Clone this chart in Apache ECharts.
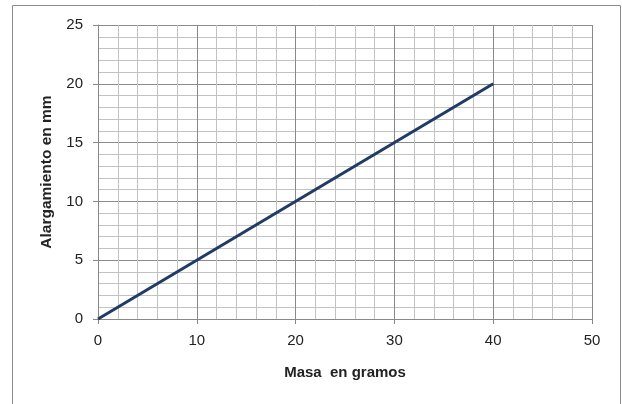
<!DOCTYPE html>
<html>
<head>
<meta charset="utf-8">
<script src="https://cdn.jsdelivr.net/npm/echarts@6/dist/echarts.min.js"></script>
<style>html,body{margin:0;padding:0;background:#fff}#c{width:622px;height:404px}</style>
</head>
<body>
<div id="c"></div>
<script>
const masa = [0, 40];
const alargamiento = [0, 20];
const xTitle = 'Masa  en gramos';
const yTitle = 'Alargamiento en mm';

const chart = echarts.init(document.getElementById('c'), null, {renderer: 'canvas'});
const font = 'Liberation Sans, Arial, sans-serif';
chart.setOption({
  animation: false,
  backgroundColor: '#fff',
  graphic: [{
    type: 'rect', shape: {x: 12.5, y: 5.5, width: 608, height: 420},
    style: {fill: 'none', stroke: '#8c8c8c', lineWidth: 1}, silent: true, z: -1
  }],
  grid: {left: 98, right: 30, top: 25, bottom: 85, containLabel: false},
  xAxis: {
    type: 'value', min: 0, max: 50, interval: 10,
    name: xTitle, nameLocation: 'middle', nameGap: 46,
    nameTextStyle: {fontFamily: font, fontWeight: 'bold', fontSize: 15, color: '#222'},
    axisLine: {show: true, lineStyle: {color: '#888', width: 1}},
    axisTick: {show: true, inside: false, length: 5, lineStyle: {color: '#888'}},
    axisLabel: {fontFamily: font, fontSize: 15, color: '#222', margin: 14},
    splitLine: {show: true, lineStyle: {color: '#8a8a8a', width: 1}},
    minorTick: {show: false, splitNumber: 5},
    minorSplitLine: {show: true, lineStyle: {color: '#c2c2c2', width: 1}}
  },
  yAxis: {
    type: 'value', min: 0, max: 25, interval: 5,
    name: yTitle, nameLocation: 'middle', nameGap: 43, nameRotate: 90,
    nameTextStyle: {fontFamily: font, fontWeight: 'bold', fontSize: 15.5, color: '#222'},
    axisLine: {show: true, lineStyle: {color: '#888', width: 1}},
    axisTick: {show: true, inside: false, length: 5, lineStyle: {color: '#888'}},
    axisLabel: {fontFamily: font, fontSize: 15, color: '#222', margin: 15},
    splitLine: {show: true, lineStyle: {color: '#8a8a8a', width: 1}},
    minorTick: {show: false, splitNumber: 5},
    minorSplitLine: {show: true, lineStyle: {color: '#c2c2c2', width: 1}}
  },
  series: [{
    type: 'line',
    data: masa.map((m, i) => [m, alargamiento[i]]),
    showSymbol: false, symbol: 'none',
    lineStyle: {color: '#1f3b66', width: 3},
    z: 5
  }]
});
</script>
</body>
</html>
